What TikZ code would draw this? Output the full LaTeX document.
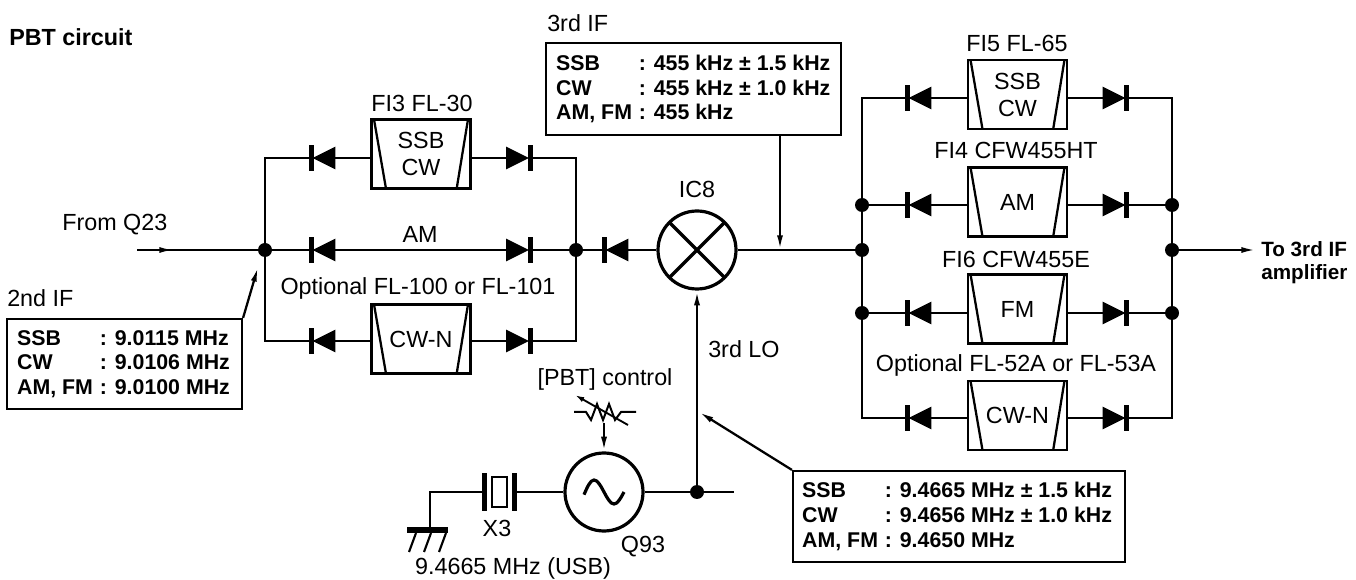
\documentclass[tikz,border=0pt]{standalone}
\usepackage{fontspec}
\setmainfont{Liberation Sans}
\usetikzlibrary{arrows.meta}
\newcommand{\colbox}[1]{\makebox[62pt][l]{#1}}
\begin{document}
\begin{tikzpicture}[x=0.75pt,y=-0.75pt,
  wire/.style={line width=1.7pt},
  tipped/.style={-{Latex[length=11pt,width=4.5pt]}},
  lab/.style={font=\fontsize{17.5}{20}\selectfont, inner sep=0pt},
  blab/.style={font=\bfseries\fontsize{15.5}{18}\selectfont, inner sep=0pt},
  dot/.style={circle, fill, inner sep=0pt, minimum size=10.5pt},
  filterbox/.style={draw, line width=1.9pt, minimum width=74.5pt, minimum height=52pt,
    inner sep=0pt, align=center, font=\fontsize{17.5}{20.25}\selectfont,
    path picture={
      \draw[line width=1.7pt] ([xshift=2pt]path picture bounding box.north west) -- ([xshift=11pt]path picture bounding box.south west);
      \draw[line width=1.7pt] ([xshift=-2pt]path picture bounding box.north east) -- ([xshift=-10.5pt]path picture bounding box.south east);}},
  diodeL/.style={minimum width=20pt, minimum height=19pt, inner sep=0pt, outer sep=0pt,
    path picture={
      \fill (path picture bounding box.south west) rectangle ([xshift=3.9pt]path picture bounding box.north west);
      \fill ([xshift=3pt]path picture bounding box.west) -- ([yshift=-1pt]path picture bounding box.north east) -- ([yshift=1pt]path picture bounding box.south east) -- cycle;}},
  diodeR/.style={minimum width=20pt, minimum height=19pt, inner sep=0pt, outer sep=0pt,
    path picture={
      \fill ([xshift=-3.9pt]path picture bounding box.south east) rectangle (path picture bounding box.north east);
      \fill ([xshift=-3pt]path picture bounding box.east) -- ([yshift=-1pt]path picture bounding box.north west) -- ([yshift=1pt]path picture bounding box.south west) -- cycle;}},
  infobox/.style={draw, line width=1.6pt, inner sep=0pt},
  infotext/.style={inner sep=0pt, align=left, anchor=west,
    font=\bfseries\fontsize{16}{18.5}\selectfont},
  bigcircle/.style={circle, draw, line width=2.4pt, minimum size=58.5pt, inner sep=0pt},
]
\fill[white] (0,0) rectangle (1356,580);
\useasboundingbox (0,0) rectangle (1356,580);

% ---------- title and input ----------
\node[lab, font=\bfseries\fontsize{17.5}{20}\selectfont, anchor=base west] (title) at (9,46) {PBT circuit};
\node[lab, anchor=base west] (fromq) at (62,231) {From Q23};
\coordinate (inA) at (137,250);
\coordinate (inB) at (174,250);

% ---------- first filter bank ----------
\node[dot] (j1) at (265,250) {};
\node[dot] (j2) at (576,250) {};
\node[diodeL] (d1) at (322,158) {};
\node[filterbox] (f1) at (421,154) {SSB\\CW};
\node[diodeR] (d2) at (519.5,158) {};
\node[diodeL] (d3) at (322,250) {};
\node[diodeR] (d4) at (519.5,250) {};
\node[diodeL] (d5) at (322,341) {};
\node[filterbox] (f2) at (421,339) {CW-N};
\node[diodeR] (d6) at (519.5,341) {};
\node[lab, anchor=base] (lf1) at (422,112) {FI3 FL-30};
\node[lab, anchor=base] (lam) at (420,243) {AM};
\node[lab, anchor=base] (lopt1) at (418,295) {Optional FL-100 or FL-101};

\draw[wire] (inA) -- (j1);
\draw[wire, tipped] (inA) -- (inB);
\draw[wire] (d1.west) -| (j1);
\draw[wire] (d5.west) -| (j1);
\draw[wire] (d1.east) -- (d1.east -| f1.west);
\draw[wire] (f1.east |- d2) -- (d2.west);
\draw[wire] (d2.east) -| (j2);
\draw[wire] (d5.east) -- (d5.east -| f2.west);
\draw[wire] (f2.east |- d6) -- (d6.west);
\draw[wire] (d6.east) -| (j2);
\draw[wire] (j1) -- (d3.west);
\draw[wire] (d3.east) -- (d4.west);
\draw[wire] (d4.east) -- (j2);

% 2nd IF box
\node[lab, anchor=base west] (l2if) at (7,307) {2nd IF};
\node[infobox, minimum width=176.25pt, minimum height=67.5pt] (if2) at (124.5,364) {};
\node[infotext] (if2t) at ([xshift=8.25pt]if2.west)
  {\colbox{SSB}: 9.0115 MHz\\\colbox{CW}: 9.0106 MHz\\\colbox{AM, FM}: 9.0100 MHz};
\coordinate (if2tip) at (258,267);
\draw[wire, tipped] (if2.north east) -- (if2tip);

% ---------- mixer ----------
\node[diodeL] (dm) at (615,250) {};
\node[bigcircle, path picture={
   \draw[line width=2.4pt] (path picture bounding box.north west) -- (path picture bounding box.south east);
   \draw[line width=2.4pt] (path picture bounding box.north east) -- (path picture bounding box.south west);}]
   (mix) at (697,250) {};
\node[lab, anchor=base] (lic8) at (697,198) {IC8};
\draw[wire] (j2) -- (dm.west);
\draw[wire] (dm.east) -- (mix.west);
\node[dot] (j3) at (862,250) {};
\draw[wire] (mix.east) -- (j3);
\coordinate (tapif) at (780,250);

% 3rd IF box
\node[lab, anchor=base west] (l3if) at (547,32) {3rd IF};
\node[infobox, minimum width=221.25pt, minimum height=69pt] (if3) at (693.5,89) {};
\node[infotext] (if3t) at ([xshift=8.25pt]if3.west)
  {\colbox{SSB}: 455 kHz ± 1.5 kHz\\\colbox{CW}: 455 kHz ± 1.0 kHz\\\colbox{AM, FM}: 455 kHz};
\draw[wire, tipped] (if3.south -| tapif) -- (tapif);

% ---------- second filter bank ----------
\node[dot] (jl2) at (862,205) {};
\node[dot] (jl3) at (862,313) {};
\node[dot] (j4) at (1172,250) {};
\node[dot] (jr2) at (1172,205) {};
\node[dot] (jr3) at (1172,313) {};

\node[diodeL] (e1) at (918,98) {};
\node[filterbox] (g1) at (1017.5,94.5) {SSB\\CW};
\node[diodeR] (e2) at (1116,98) {};
\node[diodeL] (e3) at (918,205) {};
\node[filterbox] (g2) at (1017.5,202) {AM};
\node[diodeR] (e4) at (1116,205) {};
\node[diodeL] (e5) at (918,313) {};
\node[filterbox] (g3) at (1017.5,309) {FM};
\node[diodeR] (e6) at (1116,313) {};
\node[diodeL] (e7) at (918,418) {};
\node[filterbox] (g4) at (1017.5,415.5) {CW-N};
\node[diodeR] (e8) at (1116,418) {};

\node[lab, anchor=base] (lg1) at (1017,52) {FI5 FL-65};
\node[lab, anchor=base] (lg2) at (1016,159) {FI4 CFW455HT};
\node[lab, anchor=base] (lg3) at (1016,268) {FI6 CFW455E};
\node[lab, anchor=base] (lg4) at (1016,372) {Optional FL-52A or FL-53A};

\draw[wire] (e1.west) -| (j3);
\draw[wire] (e7.west) -| (j3);
\draw[wire] (e2.east) -| (j4);
\draw[wire] (e8.east) -| (j4);
\draw[wire] (jl2) -- (e3.west);
\draw[wire] (jl3) -- (e5.west);
\draw[wire] (e4.east) -- (jr2);
\draw[wire] (e6.east) -- (jr3);
\foreach \d/\f/\e in {e1/g1/e2, e3/g2/e4, e5/g3/e6, e7/g4/e8}{
  \draw[wire] (\d.east) -- (\d.east -| \f.west);
  \draw[wire] (\f.east |- \e) -- (\e.west);
}

% output
\coordinate (outtip) at (1256,250);
\draw[wire, tipped] (j4) -- (outtip);
\node[blab, anchor=base west] (lout1) at (1261,257) {To 3rd IF};
\node[blab, anchor=base west] (lout2) at (1261,280) {amplifier};

% ---------- 3rd LO ----------
\node[bigcircle] (osc) at (604,492) {};
\draw[line width=2.4pt] ([xshift=-15pt,yshift=-2pt]osc.center) sin ++(7.5pt,11pt) cos ++(7.5pt,-9pt) sin ++(7.5pt,-9pt) cos ++(7.5pt,9pt);
\node[dot] (jlo) at (697,492) {};
\coordinate (stub) at (734,492);
\node[minimum width=26.25pt, minimum height=27.75pt, inner sep=0pt, outer sep=0pt,
  path picture={
    \fill (path picture bounding box.south west) rectangle ([xshift=3.9pt]path picture bounding box.north west);
    \fill ([xshift=-3.9pt]path picture bounding box.south east) rectangle (path picture bounding box.north east);
    \draw[line width=1.5pt] ([xshift=7.3pt,yshift=3pt]path picture bounding box.south west) rectangle ([xshift=-7.3pt,yshift=-3pt]path picture bounding box.north east);}]
  (xtal) at (499.5,492) {};
\coordinate (gc) at (430,492);
\coordinate (gnd) at (430,528);
\draw[wire] (xtal.west) -- (gc) -- (gnd);
\fill (407,526.5) rectangle (448,533);
\draw[line width=1.6pt] (416,533) -- (409,552) (431,533) -- (424,552) (446,533) -- (439,552);
\draw[wire] (xtal.east) -- (osc.west);
\draw[wire] (osc.east) -- (jlo) -- (stub);
\draw[wire, tipped] (jlo) -- (mix.south);

\node[lab, anchor=base west] (l3lo) at (708,358) {3rd LO};
\node[lab, anchor=base] (lx3) at (497,537) {X3};
\node[lab, anchor=base] (lq93) at (643,552) {Q93};
\node[lab, anchor=base] (lxf) at (513,574) {9.4665 MHz (USB)};

% PBT control
\node[lab, anchor=base] (lpbt) at (605,386) {[PBT] control};
\draw[line width=1.5pt] (574,412) -- (586,412) -- (591,420) -- (597,404) -- (603,420) -- (609,404) -- (615,420) -- (621,412) -- (636,412);
\draw[line width=1.4pt, -{Latex[length=7pt,width=4pt]}] (628,425) -- (575,395);
\coordinate (pbtout) at (604,423);
\draw[wire, tipped] (pbtout) -- (osc.north);

% LO box
\node[infobox, minimum width=249pt, minimum height=68.25pt] (lo) at (959,516.5) {};
\node[infotext] (lot) at ([xshift=7.5pt]lo.west)
  {\colbox{SSB}: 9.4665 MHz ± 1.5 kHz\\\colbox{CW}: 9.4656 MHz ± 1.0 kHz\\\colbox{AM, FM}: 9.4650 MHz};
\coordinate (lotip) at (699,412);
\draw[wire, tipped] (lo.north west) -- (lotip);
\end{tikzpicture}
\end{document}
